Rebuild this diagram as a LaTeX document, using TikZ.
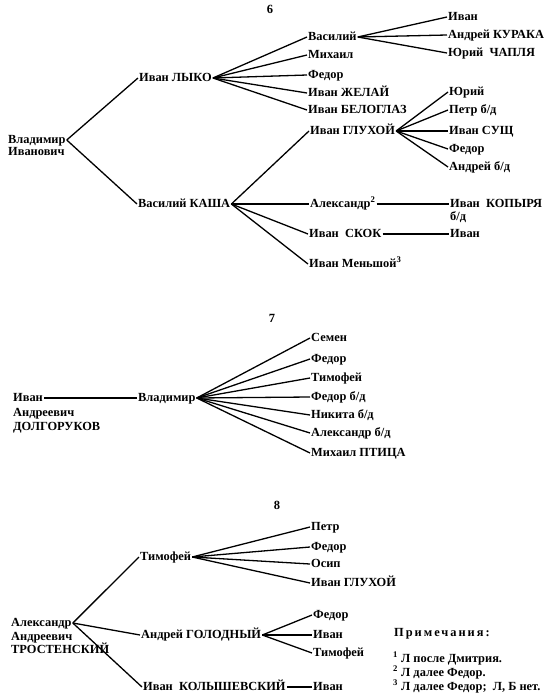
\documentclass[tikz,border=0pt]{standalone}
\usepackage{fontspec}
\setmainfont{Liberation Serif}
\newfontfamily\spacedfont[LetterSpace=16]{Liberation Serif}
\begin{document}
\begin{tikzpicture}[x=1pt,y=-1pt,
    person/.style={anchor=west, inner sep=1pt, text height=8pt, text depth=2pt},
    branch/.style={line width=1.3pt},
    title/.style={inner sep=0pt, font=\bfseries\fontsize{12.5}{14}\selectfont}]
                \useasboundingbox (0,0) rectangle (550,699);
                {\bfseries\fontsize{12.4}{14}\selectfont

                % ---------------- Table 6 ----------------
                \draw (270,9) node (t6) [title] {6};%

                % Marking root Vladimir Ivanovich
                \draw (7,140) node (vlad) [person] {Владимир};%
                \draw (7,152) node (vladb) [person] {Иванович};%

                % Marking sons
                \draw (138,78) node (lyko) [person] {Иван ЛЫКО};%
                \draw (137,204) node (kasha) [person] {Василий КАША};%

                % Marking sons of Ivan LYKO
                \draw (307,37) node (vas) [person] {Василий};%
                \draw (307,55) node (mih) [person] {Михаил};%
                \draw (307,75) node (fed) [person] {Федор};%
                \draw (307,93) node (zhel) [person] {Иван ЖЕЛАЙ};%
                \draw (307,110) node (belo) [person] {Иван БЕЛОГЛАЗ};%

                % Marking sons of Vasilij KASHA
                \draw (309,131) node (gluh) [person] {Иван ГЛУХОЙ};%
                \draw (309,204) node (alex) [person] {Александр\textsuperscript{2}};%
                \draw (308,234) node (skok) [person] {Иван\ \ СКОК};%
                \draw (308,264) node (mensh) [person] {Иван Меньшой\textsuperscript{3}};%

                % Marking grandsons
                \draw (447,17) node (ivana) [person] {Иван};%
                \draw (447,35) node (kuraka) [person] {Андрей КУРАКА};%
                \draw (447,53) node (chaplya) [person] {Юрий\ \ ЧАПЛЯ};%
                \draw (448,92) node (yur) [person] {Юрий};%
                \draw (448,110) node (petr) [person] {Петр б/д};%
                \draw (448,131) node (sushch) [person] {Иван СУЩ};%
                \draw (448,149) node (fedb) [person] {Федор};%
                \draw (448,167) node (andr) [person] {Андрей б/д};%
                \draw (449,204) node (kopyrya) [person] {Иван\ \ КОПЫРЯ};%
                \draw (449,217) node (kopyryab) [person] {б/д};%
                \draw (449,234) node (ivanb) [person] {Иван};%

                % Drawing lines of table 6
                \draw [branch] (vlad.east) -- (lyko.west);%
                \draw [branch] (vlad.east) -- (kasha.west);%
                \foreach \s in {vas,mih,fed,zhel,belo}
                  \draw [branch] (lyko.east) -- (\s.west);%
                \foreach \s in {gluh,alex,skok,mensh}
                  \draw [branch] (kasha.east) -- (\s.west);%
                \foreach \s in {ivana,kuraka,chaplya}
                  \draw [branch] (vas.east) -- (\s.west);%
                \foreach \s in {yur,petr,sushch,fedb,andr}
                  \draw [branch] (gluh.east) -- (\s.west);%
                \draw [branch] (alex.east) -- (kopyrya.west);%
                \draw [branch] (skok.east) -- (ivanb.west);%

                % ---------------- Table 7 ----------------
                \draw (272,318) node (t7) [title] {7};%

                % Marking root Ivan Andreevich DOLGORUKOV
                \draw (12,398) node (dolg) [person] {Иван};%
                \draw (12,413) node (dolgb) [person] {Андреевич};%
                \draw (12,427) node (dolgc) [person] {ДОЛГОРУКОВ};%

                % Marking son and grandsons
                \draw (137,398) node (vladc) [person] {Владимир};%
                \draw (310,338) node (sem) [person] {Семен};%
                \draw (310,359) node (fedc) [person] {Федор};%
                \draw (310,378) node (tima) [person] {Тимофей};%
                \draw (310,397) node (fedd) [person] {Федор б/д};%
                \draw (310,415) node (nik) [person] {Никита б/д};%
                \draw (310,433) node (alexb) [person] {Александр б/д};%
                \draw (310,453) node (ptica) [person] {Михаил ПТИЦА};%

                % Drawing lines of table 7
                \draw [branch] (dolg.east) -- (vladc.west);%
                \foreach \s in {sem,fedc,tima,fedd,nik,alexb,ptica}
                  \draw [branch] (vladc.east) -- (\s.west);%

                % ---------------- Table 8 ----------------
                \draw (277,505) node (t8) [title] {8};%

                % Marking root Aleksandr Andreevich TROSTENSKIJ
                \draw (10,623) node (tros) [person] {Александр};%
                \draw (10,637) node (trosb) [person] {Андреевич};%
                \draw (10,650) node (trosc) [person] {ТРОСТЕНСКИЙ};%

                % Marking sons
                \draw (139,557) node (timb) [person] {Тимофей};%
                \draw (140,635) node (golod) [person] {Андрей ГОЛОДНЫЙ};%
                \draw (142,687) node (kolysh) [person] {Иван\ \ КОЛЫШЕВСКИЙ};%

                % Marking grandsons
                \draw (310,527) node (petrb) [person] {Петр};%
                \draw (310,547) node (fede) [person] {Федор};%
                \draw (310,564) node (osip) [person] {Осип};%
                \draw (310,583) node (gluhb) [person] {Иван ГЛУХОЙ};%
                \draw (312,615) node (fedf) [person] {Федор};%
                \draw (312,635) node (ivanc) [person] {Иван};%
                \draw (312,653) node (timc) [person] {Тимофей};%
                \draw (312,687) node (ivand) [person] {Иван};%

                % Drawing lines of table 8
                \foreach \s in {timb,golod,kolysh}
                  \draw [branch] (tros.east) -- (\s.west);%
                \foreach \s in {petrb,fede,osip,gluhb}
                  \draw [branch] (timb.east) -- (\s.west);%
                \foreach \s in {fedf,ivanc,timc}
                  \draw [branch] (golod.east) -- (\s.west);%
                \draw [branch] (kolysh.east) -- (ivand.west);%

                % Marking notes
                \draw (393,633) node (notes) [person] {{\spacedfont\bfseries Примечания:}};%
                \draw (392,659) node (notea) [person] {\textsuperscript{1} Л после Дмитрия.};%
                \draw (392,673) node (noteb) [person] {\textsuperscript{2} Л далее Федор.};%
                \draw (392,687) node (notec) [person] {\textsuperscript{3} Л далее Федор;\ \ Л, Б нет.};%
                }
\end{tikzpicture}
\end{document}
